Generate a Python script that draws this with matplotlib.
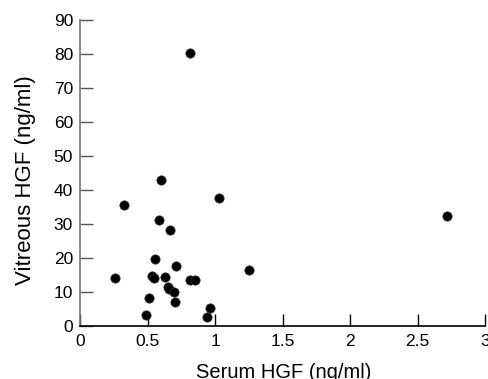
import matplotlib
matplotlib.use("Agg")
import matplotlib.pyplot as plt

serum = [0.598, 0.326, 1.03, 0.588, 0.670, 0.556, 0.714, 0.257, 0.531, 0.549,
         0.630, 0.815, 0.850, 0.652, 0.657, 0.697, 0.509, 0.704, 0.492, 0.959,
         0.941, 1.248, 0.815, 2.718]
vitreous = [42.9, 35.4, 37.7, 31.1, 28.3, 19.6, 17.7, 14.2, 14.8, 14.0,
            14.4, 13.6, 13.6, 11.5, 10.8, 10.1, 8.3, 6.9, 3.1, 5.2,
            2.7, 16.4, 80.1, 32.3]
xticks = [0, 0.5, 1, 1.5, 2, 2.5, 3]
xticklabels = ["0", "0.5", "1", "1.5", "2", "2.5", "3"]
yticks = [0, 10, 20, 30, 40, 50, 60, 70, 80, 90]

plt.rcParams['font.family'] = ['Liberation Sans', 'DejaVu Sans']

fig = plt.figure(figsize=(4.88, 3.79), dpi=100)
ax = fig.add_axes([0.164, 0.140, 0.830, 0.8085])
ax.scatter(serum, vitreous, s=45, color='black', edgecolors='#333333', linewidths=0.5, zorder=3, clip_on=False)
ax.set_xlim(0, 3)
ax.set_ylim(0, 90)
ax.set_xticks(xticks)
ax.set_xticklabels(xticklabels)
ax.set_yticks(yticks)
ax.spines['top'].set_visible(False)
ax.spines['right'].set_visible(False)
ax.spines['left'].set_color('#777777')
ax.spines['left'].set_linewidth(1.2)
ax.spines['bottom'].set_color('black')
ax.spines['bottom'].set_linewidth(1.2)
ax.tick_params(axis='both', direction='in', length=9, width=1, labelsize=12.5, colors='black')
ax.tick_params(axis='y', color='#555555', pad=5)
ax.tick_params(axis='x', pad=6)
ax.set_xlabel("Serum HGF (ng/ml)", fontsize=14.5)
ax.set_ylabel("Vitreous HGF (ng/ml)", fontsize=16)
ax.xaxis.label.set_va('top')
ax.xaxis.set_label_coords(0.504, -0.1207)
ax.yaxis.label.set_va('center')
ax.yaxis.set_label_coords(-0.1346, 0.475)
fig.savefig("out.png", dpi=100)
